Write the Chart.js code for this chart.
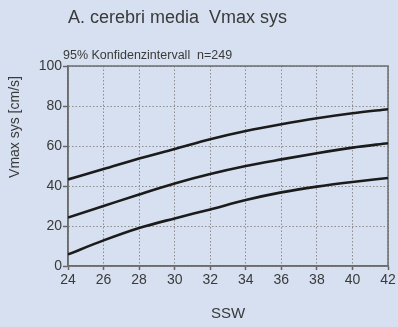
<!DOCTYPE html>
<html>
<head>
<meta charset="utf-8">
<title>A. cerebri media Vmax sys</title>
<script src="https://cdn.jsdelivr.net/npm/chart.js@4.4.1/dist/chart.umd.min.js"></script>
<style>
    html, body { margin: 0; padding: 0; background: #d6e0f0; }
    canvas { display: block; }
</style>
</head>
<body>
<canvas id="chart" width="398" height="327"></canvas>
<script>
// Gestational week (SSW) and the three curves of the 95% band
const weeks = [24, 26, 28, 30, 32, 34, 36, 38, 40, 42];
const upperBound = [43.3, 48.5, 53.8, 58.5, 63.4, 67.5, 70.9, 73.9, 76.4, 78.4];
const meanLine = [24.2, 30.0, 35.8, 41.3, 46.0, 50.0, 53.3, 56.4, 59.2, 61.4];
const lowerBound = [5.8, 12.8, 19.0, 23.8, 28.3, 33.0, 36.8, 39.7, 42.0, 44.0];

const xTicks = [24, 26, 28, 30, 32, 34, 36, 38, 40, 42];
const yTicks = [0, 20, 40, 60, 80, 100];

const titleText = 'A. cerebri media  Vmax sys';
const subtitleText = '95% Konfidenzintervall  n=249';
const yTitle = 'Vmax sys [cm/s]';
const xTitle = 'SSW';

const FONT = '"Liberation Sans", Arial, sans-serif';
const TEXT = '#3a3a3a';

function series(values) {
    return weeks.map((w, i) => ({ x: w, y: values[i] }));
}

function curve(values) {
    return {
        data: series(values),
        borderColor: '#1b1b1b',
        borderWidth: 2.6,
        pointRadius: 0,
        fill: false,
        cubicInterpolationMode: 'monotone',
    };
}

// Texts around the plot plus the closed frame on top/right
const decorations = {
    id: 'decorations',
    beforeDatasetsDraw(chart) {
        const { ctx, chartArea: a } = chart;
        ctx.save();
        ctx.strokeStyle = '#6c6c6c';
        ctx.lineWidth = 1.5;
        ctx.strokeRect(a.left, a.top, a.right - a.left, a.bottom - a.top);
        ctx.restore();
    },
    afterDraw(chart) {
        const { ctx, chartArea: a } = chart;
        ctx.save();
        ctx.fillStyle = TEXT;
        ctx.textBaseline = 'alphabetic';
        ctx.textAlign = 'left';
        ctx.font = `18px ${FONT}`;
        ctx.fillText(titleText, 68, 23);
        ctx.font = `12.5px ${FONT}`;
        ctx.fillText(subtitleText, 63, 59);

        ctx.textAlign = 'center';
        ctx.textBaseline = 'middle';
        ctx.font = `15px ${FONT}`;
        ctx.fillText(xTitle, (a.left + a.right) / 2, 314);

        ctx.translate(15.5, 127);
        ctx.rotate(-Math.PI / 2);
        ctx.font = `14px ${FONT}`;
        ctx.fillText(yTitle, 0, 0);
        ctx.restore();
    },
};

new Chart(document.getElementById('chart'), {
    type: 'line',
    data: {
        datasets: [curve(upperBound), curve(meanLine), curve(lowerBound)],
    },
    options: {
        responsive: false,
        animation: false,
        layout: { padding: { top: 66, right: 10, left: 0, bottom: 0 } },
        plugins: {
            legend: { display: false },
            tooltip: { enabled: false },
        },
        scales: {
            x: {
                type: 'linear',
                min: 24,
                max: 42,
                afterFit: (scale) => { scale.height = 61; },
                afterBuildTicks: (scale) => { scale.ticks = xTicks.map((v) => ({ value: v })); },
                ticks: {
                    color: TEXT,
                    font: { family: FONT, size: 14 },
                    padding: 2,
                    maxRotation: 0,
                },
                grid: {
                    color: '#8d8d8d',
                    lineWidth: 1,
                    tickColor: '#666',
                    tickLength: 4,
                    tickWidth: 1.5,
                },
                border: { display: true, color: '#6c6c6c', width: 1.5, dash: [1.5, 2] },
            },
            y: {
                min: 0,
                max: 100,
                afterFit: (scale) => { scale.width = 68; },
                afterBuildTicks: (scale) => { scale.ticks = yTicks.map((v) => ({ value: v })); },
                ticks: {
                    color: TEXT,
                    font: { family: FONT, size: 14 },
                    padding: 1,
                },
                grid: {
                    color: '#8d8d8d',
                    lineWidth: 1,
                    tickColor: '#666',
                    tickLength: 5,
                    tickWidth: 1.5,
                },
                border: { display: true, color: '#6c6c6c', width: 1.5, dash: [1.5, 2] },
            },
        },
    },
    plugins: [decorations],
});
</script>
</body>
</html>
